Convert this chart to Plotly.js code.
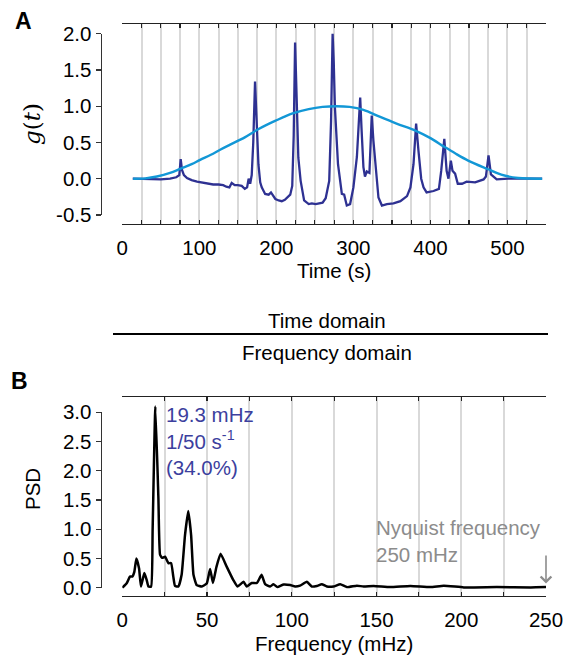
<!DOCTYPE html>
<html>
<head>
<meta charset="utf-8">
<script src="https://cdn.plot.ly/plotly-3.0.1.min.js"></script>
<style>html,body{margin:0;padding:0;background:#fff;}#chart{width:564px;height:656px;}</style>
</head>
<body>
<div id="chart"></div>
<script>
// ---- Panel A: time domain ----
const timeSec = [13.5, 30, 50, 62, 70, 74, 75.8, 77.5, 80, 84, 90, 97, 103, 110, 118, 125, 131, 135, 139, 142, 146, 150, 155, 159, 162, 164, 166, 168, 170, 172.3, 174.5, 176.7, 179, 181, 185.4, 190, 193, 198.7, 203, 207, 211, 214, 218, 220.6, 222.5, 224.3, 226.5, 228.5, 231.5, 236, 242, 246, 251, 256, 260, 264, 268.6, 271, 273, 274.5, 276, 280, 285, 288, 291.4, 295.7, 300, 304.5, 306.6, 308.8, 310.5, 313, 315, 317.4, 320.8, 322.5, 323.8, 326, 328, 330, 332.5, 337, 343.5, 352, 361, 369.6, 374, 378, 381.4, 384.5, 388, 391, 395, 404, 411, 414, 418, 421, 423.4, 426.5, 428.6, 432, 435.5, 441, 447, 458, 469, 472, 475.4, 478.5, 486, 501, 527, 545];
const gSignal = [0, -0.005, -0.01, 0.0, 0.02, 0.05, 0.27, 0.12, 0.05, 0.01, -0.02, -0.04, -0.05, -0.07, -0.08, -0.08, -0.09, -0.11, -0.12, -0.06, -0.09, -0.09, -0.1, -0.14, -0.12, 0.0, -0.07, 0.05, 0.5, 1.34, 0.75, 0.2, -0.05, -0.12, -0.21, -0.22, -0.19, -0.28, -0.30, -0.31, -0.29, -0.26, -0.22, -0.1, 0.6, 1.88, 0.9, 0.29, -0.03, -0.30, -0.35, -0.34, -0.35, -0.34, -0.33, -0.27, -0.03, 0.8, 2.0, 1.6, 0.98, 0.20, -0.21, -0.22, -0.37, -0.35, -0.12, 0.30, 0.73, 1.12, 0.7, 0.16, 0.03, 0.10, 0.08, 0.5, 0.87, 0.52, 0.3, 0.02, -0.26, -0.37, -0.35, -0.34, -0.31, -0.24, -0.12, 0.2, 0.76, 0.38, 0.0, -0.12, -0.19, -0.17, -0.14, 0.11, 0.55, 0.11, 0.0, 0.25, 0.11, 0.07, -0.07, -0.07, -0.04, -0.05, -0.01, 0.03, 0.32, 0.06, -0.01, 0.0, 0.0, 0.0];
const windowT = [14, 30, 45, 62, 76, 90, 101, 115, 127, 140, 159, 177, 199, 221, 242, 260, 278, 295, 313, 334, 356, 381, 400, 418, 432, 449, 475, 492, 514, 530, 545];
const windowVals = [0, 0.005, 0.03, 0.08, 0.14, 0.2, 0.26, 0.33, 0.40, 0.47, 0.57, 0.685, 0.80, 0.90, 0.96, 0.99, 1.0, 0.99, 0.95, 0.855, 0.76, 0.66, 0.56, 0.44, 0.35, 0.25, 0.13, 0.055, 0.01, 0.002, 0];
const timeTickVals = [0, 25, 50, 75, 100, 125, 150, 175, 200, 225, 250, 275, 300, 325, 350, 375, 400, 425, 450, 475, 500, 525, 550];
const timeTickText = ['0', '', '', '', '100', '', '', '', '200', '', '', '', '300', '', '', '', '400', '', '', '', '500', '', ''];
const gTickVals = [-0.5, 0, 0.5, 1, 1.5, 2];
const gTickText = ['-0.5', '0.0', '0.5', '1.0', '1.5', '2.0'];

// ---- Panel B: frequency domain ----
const freqMHz = [0, 2.6, 4.5, 5.9, 7.1, 8.3, 9.9, 11, 13, 14.4, 15.4, 17, 17.9, 19.5, 21.3, 22.3, 23.6, 25.2, 27.2, 28.8, 30.1, 31.1, 33.1, 35, 37, 38.9, 40.6, 42, 43.9, 46.9, 49.8, 51.8, 53.5, 55.5, 58, 61.6, 65.5, 68, 71.5, 73.4, 76.4, 79.4, 82.2, 84.3, 87.2, 89.2, 91.5, 95.2, 99.1, 102, 104.9, 108.9, 111.8, 114.8, 117.7, 120.7, 124.6, 128.6, 132.5, 138.4, 142.4, 148.3, 158, 170, 181.8, 189.7, 201.5, 221, 241, 250];
const psd = [0, 0.075, 0.19, 0.19, 0.27, 0.50, 0.33, 0.02, 0.25, 0.13, 0.02, 0.02, 1.0, 3.10, 1.53, 0.56, 0.51, 0.53, 0.42, 0.42, 0.19, 0.03, 0.02, 0.22, 0.9, 1.31, 0.9, 0.22, 0.045, 0.02, 0.07, 0.32, 0.08, 0.35, 0.58, 0.36, 0.13, 0.02, 0.10, 0.02, 0.08, 0.08, 0.22, 0.06, 0.02, 0.06, 0.01, 0.055, 0.045, 0.02, 0.035, 0.10, 0.02, 0.03, 0.06, 0.02, 0.02, 0.06, 0.01, 0.035, 0.02, 0.03, 0.01, 0.03, 0.01, 0.035, 0.005, 0.01, 0.005, 0.01];
const freqTickVals = [0, 25, 50, 75, 100, 125, 150, 175, 200, 225, 250];
const freqTickText = ['0', '', '50', '', '100', '', '150', '', '200', '', '250'];
const psdTickVals = [0, 0.5, 1, 1.5, 2, 2.5, 3];
const psdTickText = ['0.0', '0.5', '1.0', '1.5', '2.0', '2.5', '3.0'];

const W = 564, H = 656;
const px = v => v / W;
const py = v => 1 - v / H;
const FONT = '"Liberation Sans", Arial, Helvetica, sans-serif';
const SERIF = '"DejaVu Serif", "Liberation Serif", serif';
const FS = 20.5;
const NAVY = '#2e3192', CYAN = '#1297d6', GRID = '#d9d9d9';

const traces = [
  {x: timeSec, y: gSignal, xaxis: 'x', yaxis: 'y', mode: 'lines', line: {color: NAVY, width: 2.3}, hoverinfo: 'skip', showlegend: false},
  {x: windowT, y: windowVals, xaxis: 'x', yaxis: 'y', mode: 'lines', line: {color: CYAN, width: 2.4, shape: 'spline', smoothing: 1}, hoverinfo: 'skip', showlegend: false},
  {x: [null], y: [null], xaxis: 'x3', yaxis: 'y3', mode: 'lines', hoverinfo: 'skip', showlegend: false},
  {x: freqMHz, y: psd, xaxis: 'x2', yaxis: 'y2', mode: 'lines', line: {color: '#000', width: 2.5, shape: 'spline', smoothing: 0.4}, hoverinfo: 'skip', showlegend: false},
  {x: [null], y: [null], xaxis: 'x4', yaxis: 'y4', mode: 'lines', hoverinfo: 'skip', showlegend: false}
];

const DOM_X = [px(122.3), px(546)];
const xBase = {
  domain: DOM_X, showline: true, linecolor: '#222', linewidth: 1.3,
  mirror: 'ticks', ticks: 'inside', ticklen: 4, tickwidth: 1.2, tickcolor: '#222',
  showgrid: true, gridcolor: GRID, gridwidth: 2, zeroline: false, tickmode: 'array',
  tickfont: {family: FONT, size: FS, color: '#000'}, automargin: false, ticklabelstandoff: 5
};
const xHidden = {domain: DOM_X, visible: false, showgrid: false, zeroline: false, fixedrange: true};
const yTickBase = {
  anchor: 'free', position: px(100.5), showline: true, linecolor: '#333', linewidth: 1.3,
  ticks: 'outside', ticklen: 5, tickwidth: 1.2, tickcolor: '#333', showgrid: false, zeroline: false,
  tickmode: 'array', tickfont: {family: FONT, size: FS, color: '#000'}, automargin: false
};

const layout = {
  width: W, height: H, margin: {l: 0, r: 0, t: 0, b: 0},
  paper_bgcolor: '#fff', plot_bgcolor: 'rgba(0,0,0,0)', showlegend: false,
  xaxis: Object.assign({}, xBase, {anchor: 'y', range: [0, 550], tickvals: timeTickVals, ticktext: timeTickText,
    title: {text: 'Time (s)', font: {family: FONT, size: FS, color: '#000'}, standoff: 5}}),
  yaxis: {domain: [py(224), py(24.3)], range: [-0.625, 2.13], visible: false, fixedrange: true},
  xaxis3: Object.assign({}, xHidden, {anchor: 'y3', range: [0, 550]}),
  yaxis3: Object.assign({}, yTickBase, {domain: [py(214.9), py(33.7)], range: [-0.5, 2.0], tickvals: gTickVals, ticktext: gTickText}),
  xaxis2: Object.assign({}, xBase, {anchor: 'y2', range: [0, 250], tickvals: freqTickVals, ticktext: freqTickText,
    title: {text: 'Frequency (mHz)', font: {family: FONT, size: FS, color: '#000'}, standoff: 6}}),
  yaxis2: {domain: [py(596), py(397.3)], range: [-0.142, 3.256], visible: false, fixedrange: true},
  xaxis4: Object.assign({}, xHidden, {anchor: 'y4', range: [0, 250]}),
  yaxis4: Object.assign({}, yTickBase, {domain: [py(587.7), py(412.3)], range: [0, 3], tickvals: psdTickVals, ticktext: psdTickText}),
  shapes: [
    {type: 'line', xref: 'paper', yref: 'paper', x0: px(113), x1: px(548), y0: py(334), y1: py(334), line: {color: '#000', width: 2}}
  ],
  annotations: [
    {text: '<b>A</b>', xref: 'paper', yref: 'paper', x: px(23), y: py(21), xanchor: 'center', yanchor: 'middle', showarrow: false, font: {family: FONT, size: 23, color: '#000'}},
    {text: '<b>B</b>', xref: 'paper', yref: 'paper', x: px(19), y: py(381), xanchor: 'center', yanchor: 'middle', showarrow: false, font: {family: FONT, size: 23, color: '#000'}},
    {text: '<i>g</i>(<i>t</i>)', xref: 'paper', yref: 'paper', x: px(32), y: py(124), xanchor: 'center', yanchor: 'middle', textangle: -90, showarrow: false, font: {family: SERIF, size: 23, color: '#000'}},
    {text: 'PSD', xref: 'paper', yref: 'paper', x: px(32), y: py(489), xanchor: 'center', yanchor: 'middle', textangle: -90, showarrow: false, font: {family: FONT, size: FS, color: '#000'}},
    {text: 'Time domain', xref: 'paper', yref: 'paper', x: px(327), y: py(320), xanchor: 'center', yanchor: 'middle', showarrow: false, font: {family: FONT, size: FS, color: '#000'}},
    {text: 'Frequency domain', xref: 'paper', yref: 'paper', x: px(327), y: py(352), xanchor: 'center', yanchor: 'middle', showarrow: false, font: {family: FONT, size: FS, color: '#000'}},
    {text: '19.3 mHz<br>1/50 s<sup>-1</sup><br>(34.0%)', xref: 'paper', yref: 'paper', x: px(164), y: py(401), xanchor: 'left', yanchor: 'top', align: 'left', showarrow: false, font: {family: FONT, size: FS, color: '#3c3f9e'}},
    {text: 'Nyquist frequency<br>250 mHz', xref: 'paper', yref: 'paper', x: px(374), y: py(514), xanchor: 'left', yanchor: 'top', align: 'left', showarrow: false, font: {family: FONT, size: FS, color: '#8c8c8c'}},
    {text: ' ', xref: 'x2', yref: 'y2', x: 250, y: 0.07, ax: 0, ay: -38, showarrow: true, arrowhead: 4, arrowsize: 1.3, arrowwidth: 1.6, arrowcolor: '#8c8c8c'}
  ]
};

Plotly.newPlot('chart', traces, layout, {staticPlot: true, displayModeBar: false});
</script>
</body>
</html>
